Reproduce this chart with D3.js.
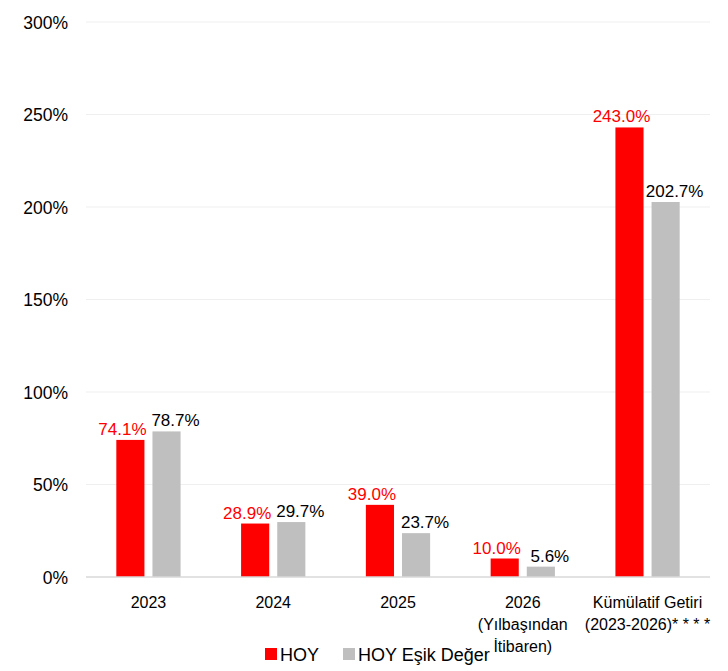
<!DOCTYPE html>
<html><head><meta charset="utf-8">
<script src="https://cdn.jsdelivr.net/npm/d3@7"></script>
<style>body{margin:0;background:#fff}svg{display:block}text{font-family:"Liberation Sans",Arial,sans-serif}</style>
</head><body>
<script>
const categories = ["2023", "2024", "2025", "2026\n(Yılbaşından\nİtibaren)", "Kümülatif Getiri\n(2023-2026)* * * *"];
const seriesNames = ["HOY", "HOY Eşik Değer"];
const hoy = [74.1, 28.9, 39.0, 10.0, 243.0];
const esik = [78.7, 29.7, 23.7, 5.6, 202.7];
const yTicks = [0, 50, 100, 150, 200, 250, 300];
const colors = ["#ff0000", "#bfbfbf"];
const labelColors = ["#ff0000", "#000000"];

const W = 728, H = 671;
const m = {left: 86, right: 18, top: 22, bottom: 94};
const svg = d3.select("body").append("svg").attr("width", W).attr("height", H);

const x = d3.scaleBand().domain(categories).range([m.left, W - m.right]).paddingInner(0.485).paddingOuter(0.243);
const x1 = d3.scaleBand().domain(seriesNames).range([0, x.bandwidth()]).paddingInner(0.222);
const y = d3.scaleLinear().domain([0, 300]).range([H - m.bottom, m.top]);

// gridlines
svg.append("g").selectAll("line").data(yTicks.filter(d => d > 0)).join("line")
  .attr("x1", m.left).attr("x2", W - m.right)
  .attr("y1", d => y(d)).attr("y2", d => y(d))
  .attr("stroke", "#efefef").attr("stroke-width", 1.2);

// y axis
const yAxis = d3.axisLeft(y).tickValues(yTicks).tickFormat(d => d + "%").tickSize(0).tickPadding(18);
svg.append("g").attr("transform", `translate(${m.left},0)`).call(yAxis)
  .call(g => g.select(".domain").remove())
  .call(g => g.selectAll("text").attr("font-size", 17.5).attr("fill", "#000").attr("dy", "0.36em"));

const series = [hoy, esik];
const groups = svg.append("g").selectAll("g").data(categories).join("g")
  .attr("transform", d => `translate(${x(d)},0)`);

groups.selectAll("rect").data((d, i) => series.map((s, k) => ({k, v: s[i]}))).join("rect")
  .attr("x", d => x1(seriesNames[d.k])).attr("width", x1.bandwidth())
  .attr("y", d => y(d.v)).attr("height", d => y(0) - y(d.v))
  .attr("fill", d => colors[d.k]);

groups.selectAll("text.val").data((d, i) => series.map((s, k) => ({k, v: s[i]}))).join("text")
  .attr("class", "val")
  .attr("x", d => x1(seriesNames[d.k]) + x1.bandwidth() / 2 + (d.k === 0 ? -8 : 9))
  .attr("y", d => y(d.v) - 5)
  .attr("text-anchor", "middle").attr("font-size", 17)
  .attr("fill", d => labelColors[d.k])
  .text(d => d.v.toFixed(1) + "%");

// x axis line
svg.append("line").attr("x1", m.left).attr("x2", W - m.right)
  .attr("y1", y(0)).attr("y2", y(0)).attr("stroke", "#d9d9d9").attr("stroke-width", 1.5);

// x labels
const xl = svg.append("g").selectAll("text").data(categories).join("text")
  .attr("x", d => x(d) + x.bandwidth() / 2).attr("y", y(0) + 31)
  .attr("text-anchor", "middle").attr("font-size", 16).attr("fill", "#000");
xl.selectAll("tspan").data(d => d.split("\n")).join("tspan")
  .attr("x", function() { return d3.select(this.parentNode).attr("x"); })
  .attr("dy", (d, i) => i === 0 ? 0 : 22).text(d => d);

// legend
const legendX = [265, 343];
const lg = svg.append("g").selectAll("g").data(seriesNames).join("g")
  .attr("transform", (d, i) => `translate(${legendX[i]},648)`);
lg.append("rect").attr("width", 12).attr("height", 12).attr("fill", (d, i) => colors[i]);
lg.append("text").attr("x", 15).attr("y", 13).attr("font-size", 18).attr("fill", "#000").text(d => d);
</script>
</body></html>
